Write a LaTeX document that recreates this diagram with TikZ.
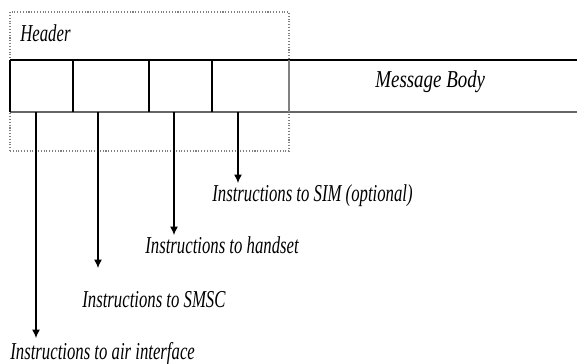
\documentclass[tikz,border=0pt]{standalone}
\usepackage{fontspec}
\usepackage{tikz}
\usetikzlibrary{arrows.meta}
\newfontfamily\labelfont[FakeStretch=0.69]{Liberation Serif}
\newfontfamily\bodyfont[FakeStretch=0.78]{Liberation Serif}

\tikzset{
  lbl/.style={anchor=base west, inner sep=0pt, font=\labelfont\fontsize{13.8}{15}\selectfont\itshape},
  ptr/.style={line width=0.6pt, -{Latex[length=1.7mm,width=1.6mm]}}
}

\begin{document}
\begin{tikzpicture}
\useasboundingbox (0,0) rectangle (11.54,7.26);

% definitions
\coordinate (A1) at (0.72,5.02);
\coordinate (A2) at (1.96,5.02);
\coordinate (A3) at (3.48,5.02);
\coordinate (A4) at (4.76,5.02);
\coordinate (B1) at (0.72,0.50);
\coordinate (B2) at (1.96,1.90);
\coordinate (B3) at (3.48,2.56);
\coordinate (B4) at (4.76,3.60);

% drawing
\draw [gray, densely dotted, line width=0.6pt] (0.2,4.24) rectangle (5.78,7.02);
\draw [line width=0.6pt] (0.2,6.06) -- (11.54,6.06);
\draw [line width=0.6pt, black!60] (0.2,5.02) -- (11.54,5.02);
\draw [line width=0.6pt] (0.2,6.06) -- (0.2,5.02);
\draw [line width=0.6pt] (1.46,6.06) -- (1.46,5.02);
\draw [line width=0.6pt] (2.98,6.06) -- (2.98,5.02);
\draw [line width=0.6pt] (4.24,6.06) -- (4.24,5.02);
\draw [line width=0.6pt, gray] (5.78,6.06) -- (5.78,5.02);

\draw [ptr] (A1) -- (B1);
\draw [ptr] (A2) -- (B2);
\draw [ptr] (A3) -- (B3);
\draw [ptr] (A4) -- (B4);

% labels
\node [lbl] (header) at (0.4,6.44) {Header};
\node [lbl, font=\bodyfont\fontsize{13.8}{15}\selectfont\itshape] (body) at (7.5,5.52) {Message Body};
\node [lbl] (sim) at (4.24,3.24) {Instructions to SIM (optional)};
\node [lbl] (handset) at (2.9,2.2) {Instructions to handset};
\node [lbl] (smsc) at (1.64,1.12) {Instructions to SMSC};
\node [lbl] (air) at (0.2,0.07) {Instructions to air interface};
\end{tikzpicture}
\end{document}
